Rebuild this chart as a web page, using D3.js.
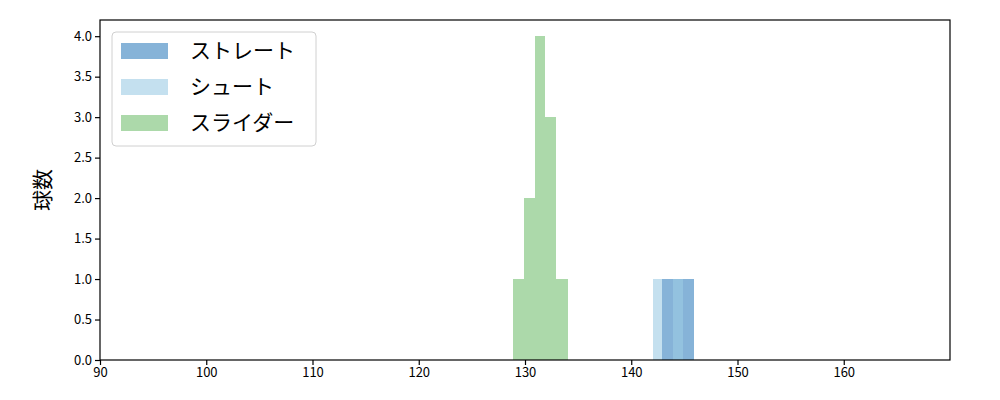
<!DOCTYPE html>
<html>
<head>
<meta charset="utf-8">
<script src="https://cdn.jsdelivr.net/npm/d3@7"></script>
<style>
  body { margin: 0; background: #fff; }
  text { font-family: "Noto Sans CJK JP", "Noto Sans", sans-serif; }
</style>
</head>
<body>
<div id="chart"></div>
<script>
// histogram bins: [x0, x1, count]
var straightBins = [[142.9, 143.95, 1], [143.95, 144.9, 1], [144.9, 145.9, 1]];
var shootBins = [[142.0, 142.9, 1], [143.95, 144.9, 1]];
var sliderBins = [[128.9, 129.9, 1], [129.9, 130.9, 2], [130.9, 131.9, 4], [131.9, 132.95, 3], [132.95, 134.0, 1]];

var seriesNames = ["ストレート", "シュート", "スライダー"];
var seriesColors = ["#86b3d8", "#9dcbe4", "#acd9aa"];
var seriesOpacity = [1, 0.6, 1];

var xTicks = [90, 100, 110, 120, 130, 140, 150, 160];
var yTicks = [0, 0.5, 1, 1.5, 2, 2.5, 3, 3.5, 4];

var widthT = 1000, heightT = 400;
var margin = {top: 20, right: 50, bottom: 40, left: 100},
    width = widthT - margin.left - margin.right,
    height = heightT - margin.top - margin.bottom;

var svg = d3.select("#chart")
    .append("svg")
    .attr("width", widthT)
    .attr("height", heightT);

var x = d3.scaleLinear().domain([90, 170]).range([0, width]),
    y = d3.scaleLinear().domain([0, 4.2]).range([height, 0]);

var g = svg.append("g")
    .attr("transform", "translate(" + margin.left + "," + margin.top + ")");

// straight first, shoot over it, slider last
[straightBins, shootBins, sliderBins].forEach(function(bins, i) {
  g.append("g").selectAll("rect")
    .data(bins)
    .enter().append("rect")
    .attr("x", function(d) { return x(d[0]); })
    .attr("width", function(d) { return x(d[1]) - x(d[0]); })
    .attr("y", function(d) { return y(d[2]); })
    .attr("height", function(d) { return y(0) - y(d[2]); })
    .attr("fill", seriesColors[i])
    .attr("fill-opacity", seriesOpacity[i])
    .attr("shape-rendering", "crispEdges");
});

var xAxis = d3.axisBottom(x).tickValues(xTicks).tickSize(5).tickPadding(3).tickFormat(d3.format("d")),
    yAxis = d3.axisLeft(y).tickValues(yTicks).tickSize(5).tickPadding(3).tickFormat(d3.format(".1f"));

g.append("g")
  .attr("class", "x axis")
  .attr("transform", "translate(0," + height + ")")
  .call(xAxis);

g.append("g")
  .attr("class", "y axis")
  .call(yAxis);

g.selectAll(".axis .domain").remove();
g.selectAll(".axis text").attr("font-size", 13).attr("fill", "#000");
g.selectAll(".axis line").attr("stroke", "#000").attr("stroke-width", 1.2);

// frame
g.append("rect")
  .attr("width", width)
  .attr("height", height)
  .attr("fill", "none")
  .attr("stroke", "#000")
  .attr("stroke-width", 1.2);

svg.append("text")
  .attr("transform", "translate(50," + (margin.top + height / 2) + ") rotate(-90)")
  .attr("text-anchor", "middle")
  .attr("font-size", 21)
  .text("球数");

// legend
var legend = svg.append("g").attr("transform", "translate(112,32)");
legend.append("rect")
  .attr("width", 204)
  .attr("height", 114)
  .attr("rx", 4)
  .attr("fill", "#fff")
  .attr("fill-opacity", 0.8)
  .attr("stroke", "#d0d0d0");

seriesNames.forEach(function(name, i) {
  var row = legend.append("g").attr("transform", "translate(0," + (19 + i * 36) + ")");
  row.append("rect")
    .attr("x", 9)
    .attr("y", -8)
    .attr("width", 47)
    .attr("height", 16)
    .attr("fill", seriesColors[i])
    .attr("fill-opacity", seriesOpacity[i]);
  row.append("text")
    .attr("x", 78)
    .attr("y", 0)
    .attr("dy", "0.35em")
    .attr("font-size", 21)
    .text(name);
});
</script>
</body>
</html>
